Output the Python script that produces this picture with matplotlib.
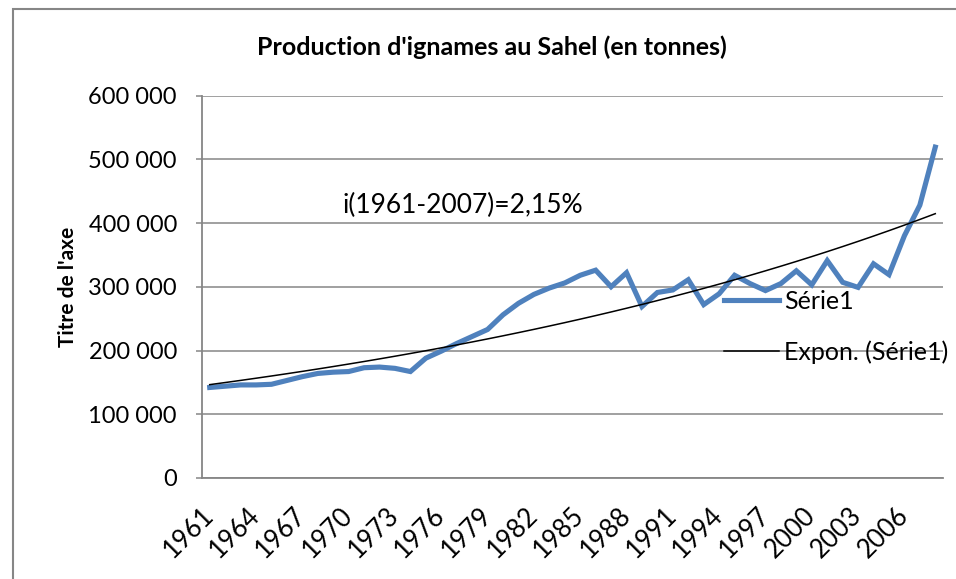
import numpy as np
import matplotlib.pyplot as plt
from matplotlib.ticker import FuncFormatter
from matplotlib.patches import Rectangle
import matplotlib.transforms as mtransforms

plt.rcParams['font.family'] = ['Lato', 'DejaVu Sans']

years = list(range(1961, 2009))
production = [142000, 144000, 146000, 146000, 147000, 153000, 159000, 164000,
              166000, 167000, 173000, 174000, 172000, 167000, 188000, 199000,
              211000, 222000, 233000, 256000, 274000, 288000, 298000, 306000,
              318000, 326000, 300000, 322000, 269000, 291000, 295000, 311000,
              272000, 289000, 318000, 305000, 294000, 305000, 325000, 303000,
              341000, 307000, 299000, 336000, 319000, 380000, 428000, 519000]
tick_years = years[::3]
title = "Production d'ignames au Sahel (en tonnes)"
y_title = "Titre de l'axe"
note = "i(1961-2007)=2,15%"

blue = "#4F81BD"
grey = "#868686"

idx = np.arange(len(years))
# Excel style exponential trendline: fit on log of values
b, a = np.polyfit(idx, np.log(production), 1)
trend = np.exp(a + b * idx)

fig = plt.figure(figsize=(9.56, 5.79), dpi=100)
ax = fig.add_axes([202/956, 1 - 478/579, 741/956, 382.5/579])

ax.plot(idx, production, color=blue, lw=3.7, solid_joinstyle='miter', label="Série1")
ax.plot(idx, trend, color="black", lw=1.1, label="Expon. (Série1)")

ax.set_xlim(-0.5, len(years) - 0.5)
ax.set_ylim(0, 600000)
ax.set_yticks(np.arange(0, 600001, 100000))
ax.yaxis.set_major_formatter(FuncFormatter(lambda v, p: f"{v:,.0f}".replace(",", " ")))
ax.grid(axis='y', color=grey, lw=1.1)
ax.set_axisbelow(True)

ax.set_xticks([years.index(y) for y in tick_years])
labels = ax.set_xticklabels([str(y) for y in tick_years], rotation=45,
                            ha='right', va='center', rotation_mode='anchor')
offset = mtransforms.ScaledTranslation(8/72, 0, fig.dpi_scale_trans)
for lab in labels:
    lab.set_transform(lab.get_transform() + offset)

ax.tick_params(axis='x', length=0, pad=24, labelsize=18.5)
ax.tick_params(axis='y', length=4, color=grey, width=1.1, pad=14, labelsize=17)
for s in ['top', 'right']:
    ax.spines[s].set_visible(False)
for s in ['left', 'bottom']:
    ax.spines[s].set_color(grey)
    ax.spines[s].set_linewidth(1.3)

ax.set_ylabel(y_title, fontsize=15, fontweight='bold')
ax.yaxis.set_label_coords(-0.167, 0.5)

fig.text(492/956, 1 - 47/579, title, fontsize=18, fontweight='bold',
         ha='center', va='center')
fig.text(343/956, 1 - 205/579, note, fontsize=19, ha='left', va='center')

ax.legend(loc='upper left', bbox_to_anchor=(724/956, 1 - 290/579),
          bbox_transform=fig.transFigure, frameon=False, fontsize=18,
          handlelength=2.2, handletextpad=0.2, labelspacing=1.1,
          borderpad=0, borderaxespad=0)

fig.patches.append(Rectangle((13/956, -0.1), 1.2, 1 - 9/579 + 0.1,
                             transform=fig.transFigure, fill=False,
                             edgecolor=grey, lw=1.5))

fig.savefig("out.png", dpi=100)
